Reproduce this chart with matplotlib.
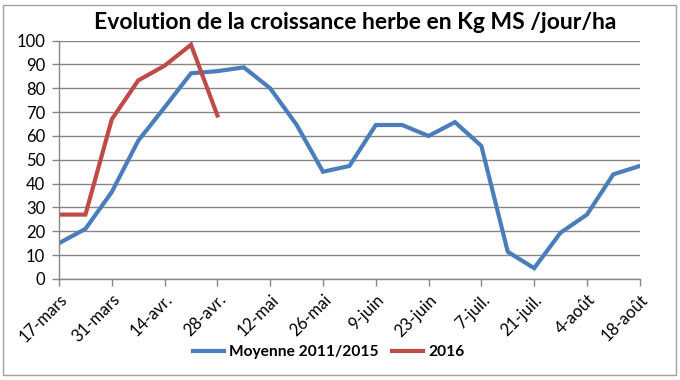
import matplotlib
matplotlib.use("Agg")
import matplotlib.pyplot as plt
from matplotlib.patches import Rectangle

weeks = ["17-mars", "24-mars", "31-mars", "7-avr.", "14-avr.", "21-avr.", "28-avr.",
         "5-mai", "12-mai", "19-mai", "26-mai", "2-juin", "9-juin", "16-juin",
         "23-juin", "30-juin", "7-juil.", "14-juil.", "21-juil.", "28-juil.",
         "4-août", "11-août", "18-août"]
moyenne = [15, 21, 36.5, 58, 72, 86.3, 87.2, 88.8, 80, 64.7, 45, 47.4, 64.6, 64.6,
           60, 65.8, 55.8, 11.4, 4.5, 19.4, 27, 43.9, 47.4]
y2016 = [27, 27, 67, 83.3, 89.5, 98.3, 68.6]
yticks = list(range(0, 101, 10))

blue = "#4A7EBB"
red = "#BE4B48"
grid = "#868686"

plt.rcParams['font.family'] = ['Lato', 'DejaVu Sans']

fig = plt.figure(figsize=(6.8, 3.8), dpi=100)
fig.patch.set_facecolor("white")
fig.add_artist(Rectangle((0.004, 0.013), 0.99, 0.975, transform=fig.transFigure,
                         fill=False, edgecolor="#A0A0A0", linewidth=1))

ax = fig.add_axes([0.0868, 0.266, 0.854, 0.627])
x = list(range(len(weeks)))
ax.plot(x, moyenne, color=blue, linewidth=3, label="Moyenne 2011/2015", solid_joinstyle="miter")
ax.plot(x[:len(y2016)], y2016, color=red, linewidth=3, label="2016", solid_joinstyle="miter")

ax.set_xlim(0, len(weeks) - 1)
ax.set_ylim(0, 100)
ax.set_yticks(yticks)
ax.set_yticklabels([str(v) for v in yticks], fontsize=12)
ax.set_xticks(x[::2])
ax.set_xticklabels(weeks[::2], rotation=45, ha="right", va="top", fontsize=12,
                   rotation_mode="anchor")
ax.yaxis.grid(True, color=grid, linewidth=1)
ax.set_axisbelow(True)
for s in ["top", "right"]:
    ax.spines[s].set_visible(False)
for s in ["left", "bottom"]:
    ax.spines[s].set_color(grid)
    ax.spines[s].set_linewidth(1)
ax.tick_params(axis="both", colors=grid, length=5, width=1, labelcolor="black")
ax.tick_params(axis="x", pad=4)
ax.tick_params(axis="y", pad=5)

fig.text(0.523, 0.942, "Evolution de la croissance herbe en Kg MS /jour/ha",
         ha="center", va="center", fontsize=16.5, fontweight="bold")

leg = fig.legend(loc="center", bbox_to_anchor=(0.483, 0.073), ncol=2, frameon=False,
                 handlelength=2.0, columnspacing=0.9, handletextpad=0.3,
                 prop={"weight": "bold", "size": 11.2})

fig.savefig("out.png", dpi=100, facecolor="white")
